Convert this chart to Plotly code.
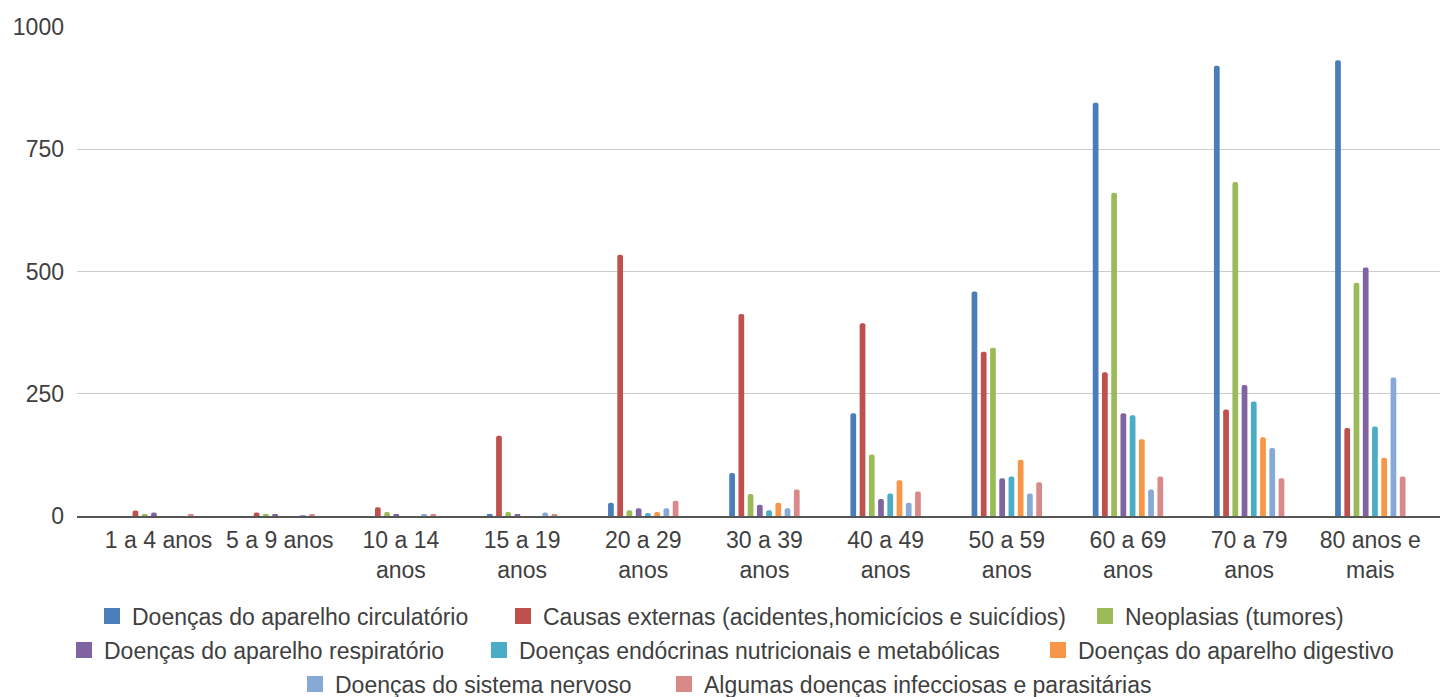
import plotly.graph_objects as go

# Faixas etárias e rótulos do eixo X
categories = ["1 a 4 anos", "5 a 9 anos", "10 a 14 anos", "15 a 19 anos", "20 a 29 anos",
              "30 a 39 anos", "40 a 49 anos", "50 a 59 anos", "60 a 69 anos",
              "70 a 79 anos", "80 anos e mais"]
tick_labels = ["1 a 4 anos", "5 a 9 anos", "10 a 14<br>anos", "15 a 19<br>anos", "20 a 29<br>anos",
               "30 a 39<br>anos", "40 a 49<br>anos", "50 a 59<br>anos", "60 a 69<br>anos",
               "70 a 79<br>anos", "80 anos e<br>mais"]

# Óbitos por causa e faixa etária
circulatorio = [0, 0, 0, 4, 27, 88, 210, 459, 845, 921, 932]
causas_externas = [11, 7, 18, 164, 534, 413, 394, 336, 294, 218, 180]
neoplasias = [4, 3, 8, 8, 12, 45, 126, 344, 661, 683, 477]
respiratorio = [7, 3, 4, 4, 16, 23, 35, 77, 210, 268, 508]
endocrinas = [0, 0, 0, 0, 6, 12, 46, 81, 206, 234, 183]
digestivo = [0, 0, 0, 0, 8, 27, 73, 115, 157, 161, 119]
nervoso = [0, 2, 3, 7, 16, 16, 27, 46, 54, 139, 283]
infecciosas = [3, 3, 3, 3, 31, 54, 50, 69, 81, 77, 81]

y_ticks = [0, 250, 500, 750, 1000]

series_names = [
    "Doenças do aparelho circulatório",
    "Causas externas (acidentes,homicícios e suicídios)",
    "Neoplasias (tumores)",
    "Doenças do aparelho respiratório",
    "Doenças endócrinas nutricionais e metabólicas",
    "Doenças do aparelho digestivo",
    "Doenças do sistema nervoso",
    "Algumas doenças infecciosas e parasitárias",
]
series_values = [circulatorio, causas_externas, neoplasias, respiratorio,
                 endocrinas, digestivo, nervoso, infecciosas]
series_colors = ["#4a7ebb", "#c0504d", "#9bbb59", "#8064a2",
                 "#4bacc6", "#f79646", "#88a9d6", "#d98a88"]

FONT = "Liberation Sans, Arial, sans-serif"
TEXT = "#404040"
SIZE = 23

# Geometria da área de plotagem (px)
W, H = 1442, 697
M_L, M_R, M_T, M_B = 77, 2, 27, 181
PLOT_W = W - M_L - M_R
PLOT_H = H - M_T - M_B

# Posição de cada entrada da legenda: (início do texto em px, linha)
legend_slots = [(134, 0), (545, 0), (1127, 0),
                (106, 1), (521, 1), (1080, 1),
                (337, 2), (706, 2)]
row_centers = [616, 650, 684]

fig = go.Figure()
for name, values, color in zip(series_names, series_values, series_colors):
    fig.add_trace(go.Bar(
        x=categories, y=values, name=name, showlegend=False,
        marker=dict(color=color, line=dict(width=0), cornerradius=2),
    ))

legend_layout = {}
for i, (name, color, (tx, row)) in enumerate(zip(series_names, series_colors, legend_slots)):
    key = "legend" if i == 0 else f"legend{i + 1}"
    fig.add_trace(go.Scatter(
        x=[None], y=[None], mode="markers", name=name, legend=key,
        marker=dict(symbol="square", size=16, color=color),
    ))
    legend_layout[key] = dict(
        orientation="h", xanchor="left", yanchor="middle",
        x=(tx - 42 - M_L) / PLOT_W,
        y=(H - M_B - row_centers[row]) / PLOT_H,
        font=dict(family=FONT, size=SIZE, color=TEXT),
        bgcolor="rgba(0,0,0,0)", itemsizing="trace",
    )

fig.update_layout(
    width=W, height=H,
    margin=dict(l=M_L, r=M_R, t=M_T, b=M_B, autoexpand=False),
    paper_bgcolor="white", plot_bgcolor="white",
    barmode="group", bargap=0.39, bargroupgap=0.38,
    font=dict(family=FONT, size=SIZE, color=TEXT),
    xaxis=dict(
        type="category", categoryorder="array", categoryarray=categories,
        tickmode="array", tickvals=categories, ticktext=tick_labels,
        range=[-0.673, 10.575],
        showline=True, linecolor="#555555", linewidth=2,
        showgrid=False, ticks="", ticklabelstandoff=2,
        tickfont=dict(size=SIZE, color=TEXT),
    ),
    yaxis=dict(
        range=[0, 1000], tickmode="array", tickvals=y_ticks,
        showgrid=True, gridcolor="#cccccc", gridwidth=1,
        zeroline=False, showline=False, ticks="",
        ticklabelstandoff=12, tickfont=dict(size=SIZE, color=TEXT),
    ),
    **legend_layout,
)

fig.write_html("out.html")
